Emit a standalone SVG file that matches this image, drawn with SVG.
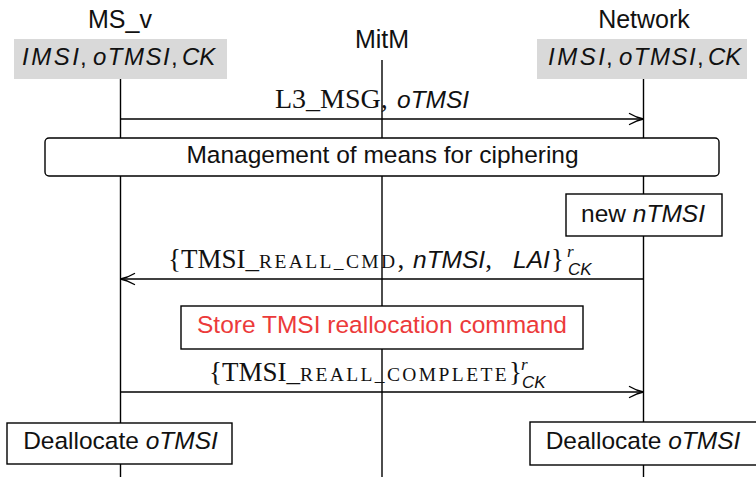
<svg xmlns="http://www.w3.org/2000/svg" width="756" height="477" viewBox="0 0 756 477">
  <style>
    .life { stroke: #000; stroke-width: 1.4; fill: none; }
    .msg { stroke: #000; stroke-width: 1.4; fill: none; marker-end: url(#to); }
    .box { fill: #fff; stroke: #000; stroke-width: 1.4; }
    .state { fill: #d9d9d9; stroke: none; }
    .sans { font-family: "Liberation Sans", Arial, sans-serif; fill: #111; }
    .serif { font-family: "Liberation Serif", "Times New Roman", serif; fill: #111; }
    .it { font-style: italic; }
    .head { font-size: 25px; }
    .lbl { font-size: 24.5px; }
    .var { font-size: 24px; font-style: italic; }
    .ser { font-size: 27px; }
    .sc { font-size: 19.5px; letter-spacing: 2.4px; }
    .scr { font-size: 17px; }
    .red { fill: #ec3a3a; }
  </style>
  <defs>
    <marker id="to" viewBox="-16 -7 18 14" markerWidth="18" markerHeight="14" markerUnits="userSpaceOnUse" refX="0" refY="0" orient="auto">
      <path d="M -14,-5.5 C -9,-2.5 -4,-0.7 0,0 C -4,0.7 -9,2.5 -14,5.5" stroke="#000" stroke-width="1.4" fill="none" stroke-linecap="round"/>
    </marker>
  </defs>

  <!-- lifelines -->
  <g id="lifelines">
    <line class="life" x1="120.5" y1="79" x2="120.5" y2="477"/>
    <line class="life" x1="382" y1="60" x2="382" y2="477"/>
    <line class="life" x1="643.5" y1="79" x2="643.5" y2="477"/>
  </g>

  <!-- participants -->
  <g id="ms_v">
    <text class="sans head" x="120" y="28" text-anchor="middle">MS_v</text>
    <rect class="state" x="14" y="39" width="213" height="40"/>
    <text class="sans var" y="65"><tspan x="22" letter-spacing="2.5">IMSI</tspan><tspan x="80" font-style="normal">,</tspan><tspan x="93" letter-spacing="1.5">oTMSI</tspan><tspan x="171" font-style="normal">,</tspan><tspan x="182">CK</tspan></text>
  </g>
  <g id="mitm">
    <text class="sans head" x="382" y="48" text-anchor="middle">MitM</text>
  </g>
  <g id="network">
    <text class="sans head" x="644" y="28" text-anchor="middle">Network</text>
    <rect class="state" x="537" y="39" width="210" height="40"/>
    <text class="sans var" y="65"><tspan x="548" letter-spacing="2.5">IMSI</tspan><tspan x="606" font-style="normal">,</tspan><tspan x="619" letter-spacing="1.5">oTMSI</tspan><tspan x="697" font-style="normal">,</tspan><tspan x="708">CK</tspan></text>
  </g>

  <!-- messages -->
  <g id="connectors">
    <line class="msg" x1="120.5" y1="119" x2="643.5" y2="119"/>
    <line class="msg" x1="643.5" y1="279" x2="120.5" y2="279"/>
    <line class="msg" x1="120.5" y1="392" x2="643.5" y2="392"/>
  </g>

  <!-- message labels -->
  <g id="msg1-label">
    <text y="108"><tspan class="serif" font-size="28" x="275">L3_MSG,</tspan><tspan class="sans it lbl" x="397">oTMSI</tspan></text>
  </g>
  <g id="msg2-label">
    <text y="268"><tspan class="serif ser" x="168">{TMSI_</tspan><tspan class="serif sc">REALL_CMD</tspan><tspan class="serif ser">,</tspan><tspan class="sans it lbl" x="413">nTMSI</tspan><tspan class="serif ser">,</tspan><tspan class="sans it lbl" x="513">LAI</tspan><tspan class="serif ser" x="551">}</tspan><tspan class="serif it scr" x="567" y="257">r</tspan><tspan class="sans it scr" x="568" y="275">CK</tspan></text>
  </g>
  <g id="msg3-label">
    <text y="381"><tspan class="serif ser" x="209">{TMSI_</tspan><tspan class="serif sc" letter-spacing="2.9">REALL_COMPLETE</tspan><tspan class="serif ser">}</tspan><tspan class="serif it scr" x="521" y="370">r</tspan><tspan class="sans it scr" x="522" y="388">CK</tspan></text>
  </g>

  <!-- actions -->
  <g id="ciphering">
    <rect class="box" x="45" y="138" width="674" height="38" rx="4" ry="4"/>
    <text class="sans lbl" x="382.5" y="163" text-anchor="middle">Management of means for ciphering</text>
  </g>
  <g id="new-tmsi">
    <rect class="box" x="566" y="194" width="156" height="42"/>
    <text class="sans lbl" x="643" y="222" text-anchor="middle">new <tspan class="it">nTMSI</tspan></text>
  </g>
  <g id="store-cmd">
    <rect class="box" x="181" y="306" width="402" height="43"/>
    <text class="sans lbl red" x="382" y="333" text-anchor="middle">Store TMSI reallocation command</text>
  </g>
  <g id="dealloc-ms">
    <rect class="box" x="7" y="423" width="225" height="41"/>
    <text class="sans lbl" x="120.5" y="449" text-anchor="middle">Deallocate <tspan class="it">oTMSI</tspan></text>
  </g>
  <g id="dealloc-net">
    <rect class="box" x="530" y="422" width="228" height="43"/>
    <text class="sans lbl" x="643" y="449" text-anchor="middle">Deallocate <tspan class="it">oTMSI</tspan></text>
  </g>
</svg>
